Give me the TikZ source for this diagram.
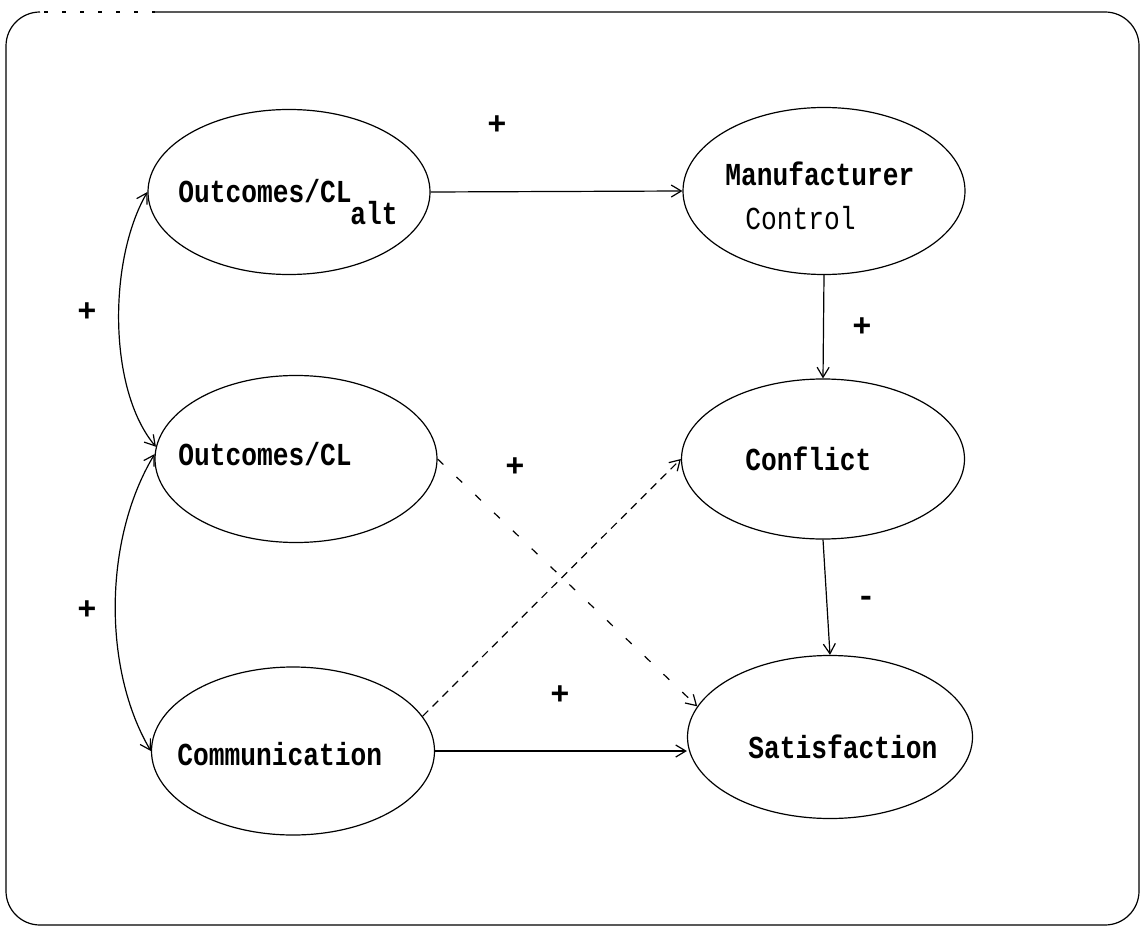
\documentclass[tikz,border=0pt]{standalone}
\usepackage{fontspec}
\newfontfamily\diagfont[FakeStretch=0.82]{Liberation Mono}
\newfontfamily\signfont{Liberation Mono}
\usetikzlibrary{shapes.geometric,arrows.meta}
\begin{document}
\begin{tikzpicture}[x=0.5pt,y=-0.5pt,
  oval/.style 2 args={draw,ellipse,minimum width=#1,minimum height=#2,inner sep=0pt,line width=0.6pt},
  lbl/.style={font=\diagfont\bfseries\fontsize{16}{18}\selectfont,inner sep=0pt,anchor=base west},
  plainlbl/.style={font=\diagfont\fontsize{16}{18}\selectfont,inner sep=0pt,anchor=base west},
  sign/.style={font=\signfont\bfseries\fontsize{16}{16}\selectfont,inner sep=0pt},
  link/.style={line width=0.6pt,-{Straight Barb[length=5pt,width=6pt]}},
  biglink/.style={line width=0.6pt,{Straight Barb[length=5pt,width=6pt]}-{Straight Barb[length=5pt,width=6pt]}},
  dashA/.style={link,dash pattern=on 4pt off 3pt},
  dashB/.style={link,dash pattern=on 4pt off 9pt},
]
\useasboundingbox (0,0) rectangle (1145,936);

% outer frame, its top left stretch only faintly printed
\draw[line width=0.6pt,rounded corners=17pt] (155,12) -- (1139,12) -- (1139,925) -- (6,925) -- (6,12) -- (40,12);
\draw[line width=0.6pt,dash pattern=on 2pt off 7pt] (44,12) -- (155,12);

% constructs
\node[oval={141pt}{82.5pt}] (A) at (289,192) {};
\node[oval={141pt}{83.5pt}] (M) at (824,191) {};
\node[oval={141pt}{83.5pt}] (B) at (296,459) {};
\node[oval={141.5pt}{80pt}] (F) at (823,459) {};
\node[oval={141.5pt}{84pt}] (C) at (293,751) {};
\node[oval={142.5pt}{81.5pt}] (S) at (830,737) {};

% names of the constructs
\node[lbl] (tA) at (178,203) {Outcomes/CL};
\node[lbl] (tAs) at (350,225) {alt};
\node[lbl] (tM) at (725,186) {Manufacturer};
\node[plainlbl] (tM2) at (745,230) {Control};
\node[lbl] (tB) at (178,465) {Outcomes/CL};
\node[lbl] (tF) at (745,470) {Conflict};
\node[lbl] (tC) at (177,765) {Communication};
\node[lbl] (tS) at (748,758) {Satisfaction};

% paths
\draw[link] (A.east) -- (M.west);
\draw[link] (M.south) -- (F.north);
\draw[link] (F.south) -- (S.north);
\draw[link] (C.east) -- (C.east -| S.west);
\draw[dashA] (C.15) -- (F.west);
\draw[dashB] (B.east) -- (S.167);
\draw[biglink] (A.west) .. controls (108,260) and (108,390) .. (B.175);
\draw[biglink] (B.178) .. controls (103,540) and (103,670) .. (C.west);

% signs of the paths
\node[sign] (p1) at (497,125) {+};
\node[sign] (p2) at (862,327) {+};
\node[sign] (p3) at (87,312) {+};
\node[sign] (p4) at (87,610) {+};
\node[sign] (p5) at (515,467) {+};
\node[sign] (p6) at (560,695) {+};
\node[sign] (m1) at (866,601) {-};
\end{tikzpicture}
\end{document}
